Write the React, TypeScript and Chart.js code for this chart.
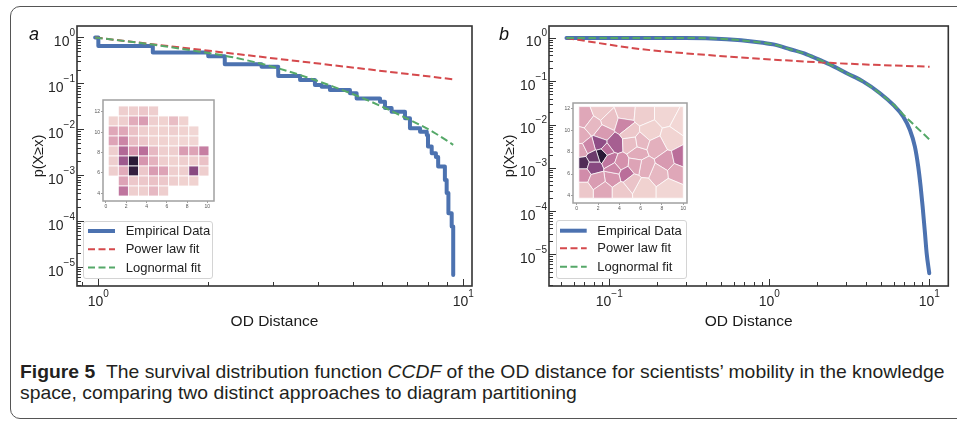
import React, { useEffect, useLayoutEffect, useRef, useState } from 'react';
import { Chart, registerables } from 'chart.js';

Chart.register(...registerables);

const FONT = '"Liberation Sans", Arial, Helvetica, sans-serif';
const BLUE = '#4c72b0';
const RED = '#d5494c';
const GREEN = '#55a868';

// ---------------- data : panel a ----------------
const EMP_A_X = [0.98, 1.0, 1.41, 2.0, 2.22, 2.8, 3.11, 3.57, 3.92, 4.09, 4.31, 4.89, 5.1, 5.91, 6.1, 6.36, 6.92, 7.14, 7.61, 7.94, 8.0, 8.19, 8.41, 8.53, 8.9, 9.0, 9.1, 9.29, 9.38];
const EMP_A_Y = [1.0, 0.65, 0.47, 0.39, 0.26, 0.231, 0.145, 0.119, 0.092, 0.085, 0.072, 0.061, 0.047, 0.04, 0.029, 0.024, 0.0174, 0.0105, 0.0089, 0.0075, 0.0042, 0.003, 0.0025, 0.00154, 0.00079, 0.00041, 0.000148, 0.000076, 0.0000067];
const POW_A_X = [0.98, 9.38];
const POW_A_Y = [1.0, 0.123];
const LOGN_A_X = [0.98, 1.41, 1.9, 2.34, 2.89, 3.57, 4.4, 5.43, 6.7, 8.27, 9.38];
const LOGN_A_Y = [1.0, 0.7, 0.49, 0.37, 0.25, 0.152, 0.085, 0.044, 0.0204, 0.0087, 0.0046];

// ---------------- data : panel b ----------------
const EMP_B_X = [0.054, 0.3, 0.54, 0.83, 1.06, 1.35, 1.71, 2.18, 2.39, 3.05, 3.87, 4.92, 5.96, 6.88, 7.57, 8.13, 8.53, 8.83, 9.09, 9.4, 9.63, 10.0];
const EMP_B_Y = [1.0, 0.999, 0.935, 0.81, 0.71, 0.55, 0.42, 0.285, 0.245, 0.153, 0.098, 0.053, 0.0284, 0.0152, 0.0075, 0.0031, 0.00107, 0.00037, 0.000127, 0.000031, 0.0000107, 0.0000037];
const POW_B_X = [0.054, 0.096, 0.155, 0.25, 0.4, 0.66, 1.06, 2.39, 4.5, 10.05];
const POW_B_Y = [1.0, 0.716, 0.557, 0.468, 0.407, 0.355, 0.316, 0.266, 0.24, 0.217];
const LOGN_B_X = [0.054, 0.3, 0.54, 0.83, 1.06, 1.35, 1.71, 2.18, 2.39, 3.05, 3.87, 4.92, 5.96, 6.88, 8.34, 10.1];
const LOGN_B_Y = [1.0, 0.999, 0.94, 0.81, 0.71, 0.55, 0.42, 0.285, 0.245, 0.153, 0.098, 0.052, 0.029, 0.017, 0.0086, 0.0044];

// axis limits
const A_XMIN = 0.874, A_XMAX = 10.56, A_YMIN = 3.86e-6, A_YMAX = 1.78;
const B_XMIN = 0.042, B_XMAX = 13.15, B_YMIN = 1.87e-6, B_YMAX = 1.89;

const LEGEND_LABELS = ['Empirical Data', 'Power law fit', 'Lognormal fit'];
const X_TITLE = 'OD Distance';
const Y_TITLE = 'p(X\u2265x)';
const INSET_X_TICKS = [0, 2, 4, 6, 8, 10];
const INSET_Y_TICKS = [4, 6, 8, 10, 12];

// ---------------- inset a : grid histogram (rows top -> bottom) ----------------
const HEAT_X0 = 0.22, HEAT_DX = 0.994, HEAT_YTOP = 12.56, HEAT_DY = 0.98;
const HEAT: (number | null)[][] = [
  [null, 0.12, 0.12, 0.15, 0.12, null, null, null, null, null],
  [0.1, 0.12, 0.28, 0.35, 0.12, 0.1, 0.2, 0.1, null, null],
  [0.3, 0.3, 0.18, 0.12, 0.1, 0.1, 0.12, 0.1, 0.08, null],
  [0.32, 0.45, 0.2, 0.15, 0.1, 0.1, 0.08, 0.08, 0.08, null],
  [0.12, 0.58, 0.38, 0.55, 0.22, 0.12, 0.12, 0.35, 0.32, 0.48],
  [0.12, 0.65, 1.0, 0.38, 0.25, 0.12, 0.1, 0.12, 0.12, 0.18],
  [0.12, 0.28, 0.97, 0.15, 0.35, 0.32, 0.12, 0.12, 0.72, 0.12],
  [null, 0.32, 0.15, 0.15, 0.18, 0.15, 0.12, 0.1, 0.1, null],
  [null, 0.52, 0.12, 0.12, 0.22, 0.12, null, null, null, null],
];

// ---------------- inset b : voronoi partition ----------------
const VOR_BOX = [0.2, 10.0, 3.8, 12.15];
const VOR_X = [0.78, 2.33, 3.04, 4.66, 6.21, 8.39, 9.78, 6.83, 8.85, 4.5, 2.48, 0.37, 2.17, 3.51, 2.42, 1.55, 0.62, 1.55, 0.47, 3.11, 4.1, 4.6, 3.42, 0.62, 5.75, 6.06, 7.45, 8.39, 9.78, 9.32, 7.76, 6.37, 1.86, 2.48, 0.62, 4.19, 6.21, 8.7, 5.12, 5.12, 4.97, 2.8, 1.09, 1.55, 5.59, 3.57];
const VOR_Y = [11.08, 11.69, 10.93, 11.54, 11.39, 11.39, 10.63, 9.86, 9.25, 10.47, 9.71, 9.4, 8.79, 8.73, 7.79, 7.51, 6.96, 6.66, 8.18, 7.33, 6.96, 5.98, 5.68, 5.98, 7.88, 8.95, 8.49, 7.11, 7.42, 6.2, 6.05, 6.66, 5.44, 4.52, 4.52, 4.52, 4.67, 4.67, 5.28, 8.79, 9.86, 8.18, 8.49, 10.47, 6.81, 6.5];
const VOR_V = [0.3, 0.14, 0.18, 0.16, 0.12, 0.08, 0.07, 0.1, 0.09, 0.45, 0.36, 0.28, 0.7, 0.62, 1.0, 0.8, 0.88, 0.72, 0.32, 0.52, 0.4, 0.55, 0.38, 0.42, 0.28, 0.22, 0.26, 0.36, 0.55, 0.3, 0.22, 0.27, 0.35, 0.3, 0.15, 0.14, 0.1, 0.08, 0.17, 0.2, 0.15, 0.55, 0.45, 0.22, 0.32, 0.45];

// ---------------- helpers ----------------
const PAL_STOPS: [number, number[]][] = [
  [0.0, [246, 228, 226]],
  [0.1, [240, 210, 208]],
  [0.25, [228, 178, 190]],
  [0.4, [212, 145, 172]],
  [0.55, [186, 110, 154]],
  [0.7, [143, 78, 134]],
  [0.85, [90, 49, 95]],
  [1.0, [42, 26, 55]],
];
function heatColor(v: number) {
  for (let i = 1; i < PAL_STOPS.length; i++) {
    const [p1, c1] = PAL_STOPS[i];
    const [p0, c0] = PAL_STOPS[i - 1];
    if (v <= p1) {
      const t = (v - p0) / (p1 - p0);
      const c = c0.map((a, k) => Math.round(a + t * (c1[k] - a)));
      return `rgb(${c[0]},${c[1]},${c[2]})`;
    }
  }
  const c = PAL_STOPS[PAL_STOPS.length - 1][1];
  return `rgb(${c[0]},${c[1]},${c[2]})`;
}

function pts(xs: number[], ys: number[]) {
  return xs.map((x, i) => ({ x, y: ys[i] }));
}
function isPow10(v: number) {
  const l = Math.log10(v);
  return Math.abs(l - Math.round(l)) < 1e-6;
}
function logTicks(min: number, max: number) {
  const out: any[] = [];
  for (let e = Math.floor(Math.log10(min)); e <= Math.ceil(Math.log10(max)); e++) {
    for (let k = 1; k <= 9; k++) {
      const v = k * Math.pow(10, e);
      if (v >= min * 0.9999 && v <= max * 1.0001) out.push({ value: v, major: k === 1 });
    }
  }
  return out;
}

function clipPoly(poly: number[][], a: number, b: number, c: number) {
  const out: number[][] = [];
  for (let i = 0; i < poly.length; i++) {
    const P = poly[i];
    const Q = poly[(i + 1) % poly.length];
    const fp = a * P[0] + b * P[1] - c;
    const fq = a * Q[0] + b * Q[1] - c;
    if (fp <= 0) out.push(P);
    if ((fp < 0 && fq > 0) || (fp > 0 && fq < 0)) {
      const t = fp / (fp - fq);
      out.push([P[0] + t * (Q[0] - P[0]), P[1] + t * (Q[1] - P[1])]);
    }
  }
  return out;
}
function voronoiCells() {
  const [x0, x1, y0, y1] = VOR_BOX;
  return VOR_X.map((xi, i) => {
    const yi = VOR_Y[i];
    let poly = [[x0, y0], [x1, y0], [x1, y1], [x0, y1]];
    VOR_X.forEach((xj, j) => {
      if (j === i) return;
      const yj = VOR_Y[j];
      poly = clipPoly(poly, xj - xi, yj - yi, (xj * xj + yj * yj - xi * xi - yi * yi) / 2);
    });
    return poly;
  });
}

// ---------------- plugins ----------------
const mplAxesPlugin = {
  id: 'mplAxes',
  afterDraw(chart: any) {
    const { ctx, chartArea } = chart;
    const { left, top, right, bottom } = chartArea;
    const xs = chart.scales.x;
    const ys = chart.scales.y;
    ctx.save();
    ctx.strokeStyle = '#333';
    ctx.lineWidth = 1;
    xs.ticks.forEach((t: any) => {
      const p = Math.round(xs.getPixelForValue(t.value)) + 0.5;
      const len = isPow10(t.value) ? 7 : 4;
      ctx.beginPath();
      ctx.moveTo(p, bottom);
      ctx.lineTo(p, bottom - len);
      ctx.stroke();
    });
    ys.ticks.forEach((t: any) => {
      const p = Math.round(ys.getPixelForValue(t.value)) + 0.5;
      const len = isPow10(t.value) ? 7 : 4;
      ctx.beginPath();
      ctx.moveTo(left, p);
      ctx.lineTo(left + len, p);
      ctx.stroke();
    });
    ctx.strokeStyle = '#333';
    ctx.lineWidth = 1.6;
    ctx.strokeRect(left, top, right - left, bottom - top);

    // tick labels 10^n
    ctx.fillStyle = '#262626';
    ctx.textBaseline = 'alphabetic';
    const label = (v: number) => {
      const e = Math.round(Math.log10(v));
      return { base: '10', exp: e < 0 ? '\u2212' + -e : String(e) };
    };
    xs.ticks.forEach((t: any) => {
      if (!isPow10(t.value)) return;
      const { base, exp } = label(t.value);
      ctx.font = `14px ${FONT}`;
      const wb = ctx.measureText(base).width;
      ctx.font = `10px ${FONT}`;
      const we = ctx.measureText(exp).width;
      const px = xs.getPixelForValue(t.value);
      const x0 = px - (wb + we) / 2;
      ctx.textAlign = 'left';
      ctx.font = `14px ${FONT}`;
      ctx.fillText(base, x0, bottom + 19.5);
      ctx.font = `10px ${FONT}`;
      ctx.fillText(exp, x0 + wb, bottom + 11);
    });
    ys.ticks.forEach((t: any) => {
      if (!isPow10(t.value)) return;
      const { base, exp } = label(t.value);
      const py = ys.getPixelForValue(t.value);
      ctx.font = `10px ${FONT}`;
      const we = ctx.measureText(exp).width;
      ctx.textAlign = 'right';
      ctx.fillText(exp, left - 2, py - 1.5);
      ctx.font = `14px ${FONT}`;
      ctx.fillText(base, left - 2 - we, py + 8.5);
    });
    ctx.restore();
  },
};

const insetPlugin = {
  id: 'insetCells',
  beforeDatasetsDraw(chart: any) {
    const { ctx, chartArea } = chart;
    const { left, top, right, bottom } = chartArea;
    const xs = chart.scales.x;
    const ys = chart.scales.y;
    const kind = chart.options.plugins.insetCells.kind;
    ctx.save();
    ctx.fillStyle = '#ffffff';
    ctx.fillRect(left, top, right - left, bottom - top);
    if (kind === 'grid') {
      HEAT.forEach((row, r) => {
        row.forEach((v, c) => {
          if (v == null) return;
          const xa = xs.getPixelForValue(HEAT_X0 + c * HEAT_DX);
          const xb = xs.getPixelForValue(HEAT_X0 + (c + 1) * HEAT_DX);
          const ya = ys.getPixelForValue(HEAT_YTOP - r * HEAT_DY);
          const yb = ys.getPixelForValue(HEAT_YTOP - (r + 1) * HEAT_DY);
          ctx.fillStyle = heatColor(v);
          ctx.fillRect(xa, ya, xb - xa, yb - ya);
          ctx.strokeStyle = '#ffffff';
          ctx.lineWidth = 0.8;
          ctx.strokeRect(xa, ya, xb - xa, yb - ya);
        });
      });
    } else {
      const cells = voronoiCells();
      cells.forEach((poly, i) => {
        if (poly.length < 3) return;
        ctx.beginPath();
        poly.forEach((p, k) => {
          const px = xs.getPixelForValue(p[0]);
          const py = ys.getPixelForValue(p[1]);
          if (k === 0) ctx.moveTo(px, py);
          else ctx.lineTo(px, py);
        });
        ctx.closePath();
        ctx.fillStyle = heatColor(VOR_V[i]);
        ctx.fill();
        ctx.strokeStyle = '#ffffff';
        ctx.lineWidth = 0.7;
        ctx.stroke();
      });
    }
    ctx.restore();
  },
  afterDraw(chart: any) {
    const { ctx, chartArea } = chart;
    const { left, top, right, bottom } = chartArea;
    ctx.save();
    ctx.strokeStyle = '#a0a0a0';
    ctx.lineWidth = 1.5;
    ctx.strokeRect(left, top, right - left, bottom - top);
    ctx.restore();
  },
};

// ---------------- configs ----------------
type Panel = {
  empX: number[]; empY: number[]; powX: number[]; powY: number[]; lognX: number[]; lognY: number[];
  xmin: number; xmax: number; ymin: number; ymax: number;
  padLeft: number; padRight: number; yWidth: number; stepped: boolean;
};

function mainConfig(p: Panel): any {
  const titleFont = (size: number) => ({ family: FONT, size });
  return {
    type: 'scatter',
    data: {
      datasets: [
        {
          label: LEGEND_LABELS[0], data: pts(p.empX, p.empY), showLine: true,
          borderColor: BLUE, backgroundColor: BLUE, borderWidth: 4, pointRadius: 0,
          stepped: p.stepped, cubicInterpolationMode: p.stepped ? 'default' : 'monotone',
          borderJoinStyle: 'round', borderCapStyle: 'round', order: 3,
        },
        {
          label: LEGEND_LABELS[1], data: pts(p.powX, p.powY), showLine: true,
          borderColor: RED, backgroundColor: RED, borderWidth: 2, borderDash: [7.5, 3.5],
          pointRadius: 0, cubicInterpolationMode: 'monotone', order: 2,
        },
        {
          label: LEGEND_LABELS[2], data: pts(p.lognX, p.lognY), showLine: true,
          borderColor: GREEN, backgroundColor: GREEN, borderWidth: 2, borderDash: [7.5, 3.5],
          pointRadius: 0, cubicInterpolationMode: 'monotone', order: 1,
        },
      ],
    },
    options: {
      responsive: false,
      animation: false,
      events: [],
      layout: { padding: { left: p.padLeft, top: 26, right: p.padRight, bottom: 9 } },
      plugins: { legend: { display: false }, tooltip: { enabled: false } },
      scales: {
        x: {
          type: 'logarithmic', min: p.xmin, max: p.xmax,
          afterBuildTicks: (s: any) => { s.ticks = logTicks(s.min, s.max); },
          afterFit: (s: any) => { s.height = 45; },
          ticks: { display: false },
          grid: { display: false },
          border: { display: false },
          title: { display: true, text: X_TITLE, color: '#1a1a1a', font: titleFont(15.5), padding: 0 },
        },
        y: {
          type: 'logarithmic', min: p.ymin, max: p.ymax,
          afterBuildTicks: (s: any) => { s.ticks = logTicks(s.min, s.max); },
          afterFit: (s: any) => { s.width = p.yWidth; },
          ticks: { display: false },
          grid: { display: false },
          border: { display: false },
          title: { display: true, text: Y_TITLE, color: '#1a1a1a', font: titleFont(14.5), padding: 0 },
        },
      },
    },
    plugins: [mplAxesPlugin],
  };
}

function insetConfig(kind: string, xmin: number, xmax: number, ymin: number, ymax: number, padTop: number, padRight: number, yWidth: number, xHeight: number): any {
  const tickOpts = { font: { family: FONT, size: 5 }, color: '#555', padding: 1, maxRotation: 0, autoSkip: false };
  const gridOpts = { display: true, drawOnChartArea: false, drawTicks: true, tickLength: 2, color: '#777', lineWidth: 0.7 };
  return {
    type: 'scatter',
    data: { datasets: [] },
    options: {
      responsive: false,
      animation: false,
      events: [],
      layout: { padding: { left: 0, top: padTop, right: padRight, bottom: 0 } },
      plugins: { legend: { display: false }, tooltip: { enabled: false }, insetCells: { kind } },
      scales: {
        x: {
          type: 'linear', min: xmin, max: xmax,
          afterBuildTicks: (s: any) => { s.ticks = INSET_X_TICKS.map((v) => ({ value: v })); },
          afterFit: (s: any) => { s.height = xHeight; },
          ticks: tickOpts, grid: gridOpts, border: { display: false },
        },
        y: {
          type: 'linear', min: ymin, max: ymax,
          afterBuildTicks: (s: any) => { s.ticks = INSET_Y_TICKS.map((v) => ({ value: v })); },
          afterFit: (s: any) => { s.width = yWidth; },
          ticks: tickOpts, grid: gridOpts, border: { display: false },
        },
      },
    },
    plugins: [insetPlugin],
  };
}

function ChartCanvas({ config, left, top, width, height }: any) {
  const ref = useRef<HTMLCanvasElement>(null);
  useEffect(() => {
    if (!ref.current) return;
    const ch = new Chart(ref.current, config);
    return () => ch.destroy();
  }, []);
  return (
    <canvas
      ref={ref}
      width={width}
      height={height}
      style={{ position: 'absolute', left, top, width, height }}
    />
  );
}

function Legend({ left, top, width, height, x0, x1, textX, rowY }: any) {
  const styles = [
    { color: BLUE, w: 4, dash: undefined },
    { color: RED, w: 2, dash: '7,3.5' },
    { color: GREEN, w: 2, dash: '7,3.5' },
  ];
  return (
    <div
      style={{
        position: 'absolute', left, top, width, height, boxSizing: 'border-box',
        border: '1px solid #d4d4d4', borderRadius: 3, background: 'rgba(255,255,255,0.85)',
      }}
    >
      <svg width={width} height={height} style={{ position: 'absolute', left: -1, top: -1 }}>
        {styles.map((s, i) => (
          <line key={i} x1={x0} x2={x1} y1={rowY[i]} y2={rowY[i]} stroke={s.color} strokeWidth={s.w} strokeDasharray={s.dash} />
        ))}
      </svg>
      {LEGEND_LABELS.map((t, i) => (
        <div
          key={t}
          style={{
            position: 'absolute', left: textX - 1, top: rowY[i] - 1 - 9, height: 18, lineHeight: '18px',
            fontFamily: FONT, fontSize: 13, color: '#222', whiteSpace: 'nowrap',
          }}
        >
          {t}
        </div>
      ))}
    </div>
  );
}

function Caption() {
  const ref = useRef<HTMLDivElement>(null);
  const [sx, setSx] = useState(1);
  useLayoutEffect(() => {
    if (ref.current) {
      const w = ref.current.scrollWidth;
      if (w > 0) setSx(925 / w);
    }
  }, []);
  const common: any = {
    position: 'absolute', left: 20, height: 22, lineHeight: '22px', whiteSpace: 'nowrap',
    fontFamily: '"Liberation Sans Narrow", "Liberation Sans", Arial, sans-serif', fontSize: 19, color: '#231f20',
    transformOrigin: 'left center', transform: `scaleX(${sx})`,
  };
  return (
    <>
      <div ref={ref} style={{ ...common, top: 361 }}>
        <b>Figure 5</b>{'\u00a0\u00a0'}The survival distribution function <i>CCDF</i> of the OD distance for scientists{'\u2019'} mobility in the knowledge
      </div>
      <div style={{ ...common, top: 382 }}>
        space, comparing two distinct approaches to diagram partitioning
      </div>
    </>
  );
}

export default function App() {
  const panelA: Panel = {
    empX: EMP_A_X, empY: EMP_A_Y, powX: POW_A_X, powY: POW_A_Y, lognX: LOGN_A_X, lognY: LOGN_A_Y,
    xmin: A_XMIN, xmax: A_XMAX, ymin: A_YMIN, ymax: A_YMAX,
    padLeft: 30, padRight: 8, yWidth: 47, stepped: true,
  };
  const panelB: Panel = {
    empX: EMP_B_X, empY: EMP_B_Y, powX: POW_B_X, powY: POW_B_Y, lognX: LOGN_B_X, lognY: LOGN_B_Y,
    xmin: B_XMIN, xmax: B_XMAX, ymin: B_YMIN, ymax: B_YMAX,
    padLeft: 21, padRight: 8.7, yWidth: 48, stepped: false,
  };
  return (
    <div style={{ position: 'absolute', left: 0, top: 0, width: 957, height: 422, overflow: 'hidden', background: '#fff' }}>
      <div
        style={{
          position: 'absolute', left: 10, top: 6, width: 1000, height: 413, boxSizing: 'border-box',
          border: '1.3px solid #555', borderRadius: 10,
        }}
      />
      <ChartCanvas config={mainConfig(panelA)} left={0} top={0} width={480} height={340} />
      <ChartCanvas config={mainConfig(panelB)} left={480} top={0} width={477} height={340} />
      <ChartCanvas config={insetConfig('grid', -0.296, 10.66, 3.25, 13.15, 5, 4, 15, 9)} left={88} top={95} width={130} height={115} />
      <ChartCanvas config={insetConfig('voronoi', -0.35, 10.35, 3.36, 12.48, 6, 3, 15, 9)} left={558} top={97} width={132} height={115} />
      <Legend left={83} top={221} width={130} height={58} x0={5} x1={32} textX={42.7} rowY={[10, 28.3, 46.6]} />
      <Legend left={556} top={220} width={131} height={59} x0={4} x1={30.7} textX={41.3} rowY={[10.7, 28.3, 46.7]} />
      <div style={{ position: 'absolute', left: 29, top: 24, fontFamily: FONT, fontStyle: 'italic', fontSize: 18, lineHeight: '20px', color: '#111' }}>a</div>
      <div style={{ position: 'absolute', left: 499, top: 24, fontFamily: FONT, fontStyle: 'italic', fontSize: 18, lineHeight: '20px', color: '#111' }}>b</div>
      <Caption />
    </div>
  );
}
